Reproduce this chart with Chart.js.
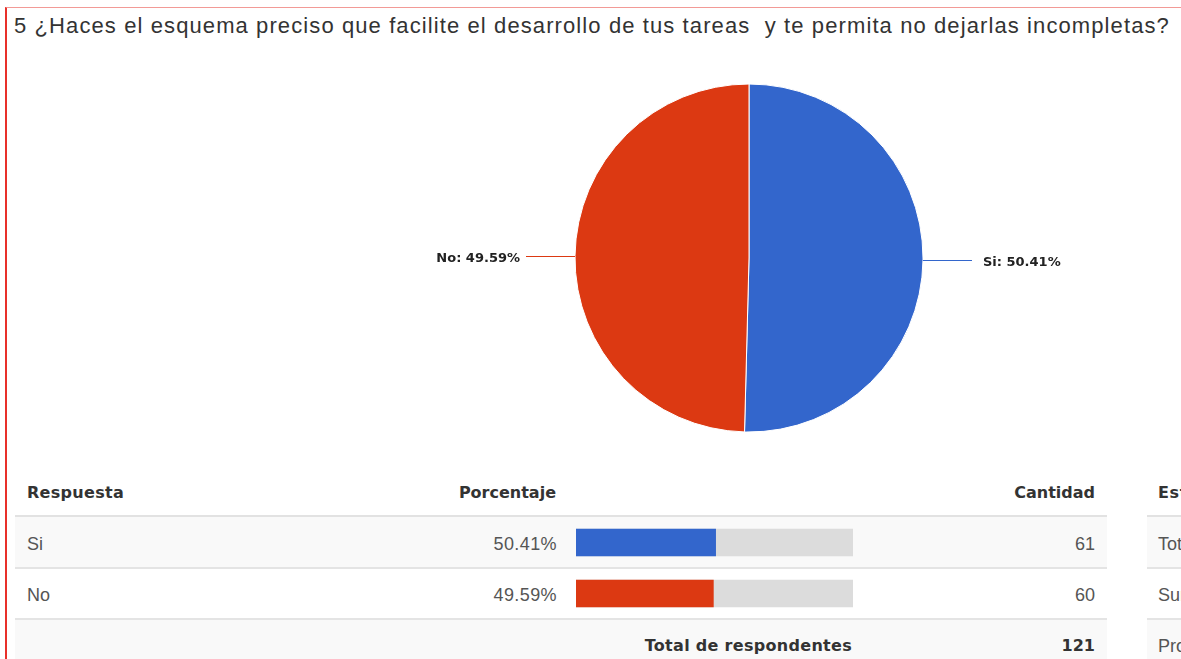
<!DOCTYPE html>
<html>
<head>
<meta charset="utf-8">
<script src="https://cdn.jsdelivr.net/npm/chart.js@4.4.1/dist/chart.umd.min.js"></script>
<style>
  html, body { margin: 0; padding: 0; background: #fff; }
  body { width: 1181px; height: 659px; position: relative; overflow: hidden; font-family: "Liberation Sans", Arial, sans-serif; }
  #frame { position: absolute; left: 5px; top: 7px; right: -10px; bottom: -10px; border-left: 2px solid #e8302a; border-top: 1px solid #f29a96; }
  #title { position: absolute; left: 14px; top: 13px; font-size: 22px; letter-spacing: 1.1px; color: #333; white-space: pre; }
  #pieWrap { position: absolute; left: 379px; top: 58px; width: 740px; height: 400px; }
  #barWrap { position: absolute; left: 576px; top: 517px; width: 277px; height: 102px; }
  .cell { position: absolute; white-space: nowrap; }
  .hd { font-family: "DejaVu Sans", sans-serif; font-weight: bold; font-size: 16px; color: #333; }
  .tx { font-size: 18px; color: #555; }
  .row { position: absolute; }
</style>
</head>
<body>
<div id="frame"></div>
<div id="title">5 ¿Haces el esquema preciso que facilite el desarrollo de tus tareas  y te permita no dejarlas incompletas?</div>
<div id="table"></div>
<div id="pieWrap"><canvas id="pie"></canvas></div>
<div id="barWrap"><canvas id="bars"></canvas></div>
<script>
const categories = ["Si", "No"];
const percentages = [50.41, 49.59];
const counts = [61, 60];
const totalLabel = "Total de respondentes";
const total = 121;
const colors = ["#3366cc", "#dc3912"];

const fmt = (v) => v.toFixed(2) + "%";

// tabla debajo del grafico
const table = document.getElementById("table");
const addEl = (parent, cls, text, css) => {
  const d = document.createElement("div");
  d.className = cls;
  d.textContent = text;
  Object.assign(d.style, css);
  parent.appendChild(d);
  return d;
};

// fondos y lineas de filas
addEl(table, "row", "", { left: "15px", top: "515px", width: "1092px", height: "2px", background: "#e2e2e2" });
addEl(table, "row", "", { left: "15px", top: "517px", width: "1092px", height: "50px", background: "#f9f9f9" });
addEl(table, "row", "", { left: "15px", top: "567px", width: "1092px", height: "2px", background: "#e4e4e4" });
addEl(table, "row", "", { left: "15px", top: "618px", width: "1092px", height: "2px", background: "#e4e4e4" });
addEl(table, "row", "", { left: "15px", top: "620px", width: "1092px", height: "40px", background: "#f9f9f9" });
// segunda tabla (cortada)
addEl(table, "row", "", { left: "1147px", top: "515px", width: "60px", height: "2px", background: "#e2e2e2" });
addEl(table, "row", "", { left: "1147px", top: "517px", width: "60px", height: "50px", background: "#f9f9f9" });
addEl(table, "row", "", { left: "1147px", top: "567px", width: "60px", height: "2px", background: "#e4e4e4" });
addEl(table, "row", "", { left: "1147px", top: "618px", width: "60px", height: "2px", background: "#e4e4e4" });
addEl(table, "row", "", { left: "1147px", top: "620px", width: "60px", height: "40px", background: "#f9f9f9" });

addEl(table, "cell hd", "Respuesta", { left: "27px", top: "483px", letterSpacing: "0.3px" });
addEl(table, "cell hd", "Porcentaje", { right: (1181 - 556) + "px", top: "483px" });
addEl(table, "cell hd", "Cantidad", { right: (1181 - 1095) + "px", top: "483px" });
addEl(table, "cell hd", "Estadísticas", { left: "1158px", top: "483px", letterSpacing: "0.6px" });

const rowTop = [534, 585];
categories.forEach((c, i) => {
  addEl(table, "cell tx", c, { left: "27px", top: rowTop[i] + "px" });
  addEl(table, "cell tx", fmt(percentages[i]), { right: (1181 - 557) + "px", top: rowTop[i] + "px", letterSpacing: "0.4px" });
  addEl(table, "cell tx", String(counts[i]), { right: (1181 - 1095) + "px", top: rowTop[i] + "px" });
});
["Total", "Suma", "Promedio"].forEach((t, i) => {
  addEl(table, "cell tx", t, { left: "1158px", top: [534, 585, 636][i] + "px" });
});
addEl(table, "cell hd", totalLabel, { right: (1181 - 852) + "px", top: "636px", letterSpacing: "0.3px" });
addEl(table, "cell hd", String(total), { right: (1181 - 1095) + "px", top: "636px" });

// etiquetas con lineas guia para el pastel
const leaderLabels = {
  id: "leaderLabels",
  afterDatasetsDraw(chart) {
    const ctx = chart.ctx;
    const meta = chart.getDatasetMeta(0);
    meta.data.forEach((arc, i) => {
      const mid = (arc.startAngle + arc.endAngle) / 2;
      const side = Math.cos(mid) >= 0 ? 1 : -1;
      const y = arc.y + arc.outerRadius * Math.sin(mid);
      const x0 = arc.x + side * Math.sqrt(arc.outerRadius ** 2 - (y - arc.y) ** 2);
      const x1 = x0 + side * 49;
      ctx.save();
      ctx.strokeStyle = colors[i];
      ctx.lineWidth = 1;
      ctx.beginPath();
      ctx.moveTo(x0, Math.round(y) + 0.5);
      ctx.lineTo(x1, Math.round(y) + 0.5);
      ctx.stroke();
      ctx.font = "bold 13px 'DejaVu Sans'";
      ctx.fillStyle = "#222";
      ctx.textBaseline = "middle";
      ctx.textAlign = side > 0 ? "left" : "right";
      ctx.fillText(categories[i] + ": " + fmt(percentages[i]), x1 + side * (side > 0 ? 11 : 6), Math.round(y) + 3);
      ctx.restore();
    });
  },
};

new Chart(document.getElementById("pie"), {
  type: "pie",
  data: {
    labels: categories,
    datasets: [{
      data: percentages,
      backgroundColor: colors,
      borderColor: "#ffffff",
      borderWidth: 1,
    }],
  },
  options: {
    responsive: true,
    maintainAspectRatio: false,
    animation: false,
    radius: 174,
    layout: { padding: 0 },
    plugins: {
      legend: { display: false },
      tooltip: { enabled: false },
    },
  },
  plugins: [leaderLabels],
});

new Chart(document.getElementById("bars"), {
  type: "bar",
  data: {
    labels: categories,
    datasets: [
      {
        data: percentages,
        backgroundColor: colors,
        barThickness: 27,
        grouped: false,
        order: 1,
      },
      {
        data: categories.map(() => 100),
        backgroundColor: "#dcdcdc",
        barThickness: 27,
        grouped: false,
        order: 2,
      },
    ],
  },
  options: {
    indexAxis: "y",
    responsive: true,
    maintainAspectRatio: false,
    animation: false,
    layout: { padding: 0 },
    scales: {
      x: { display: false, min: 0, max: 100 },
      y: { display: false },
    },
    plugins: {
      legend: { display: false },
      tooltip: { enabled: false },
    },
  },
});
</script>
</body>
</html>
